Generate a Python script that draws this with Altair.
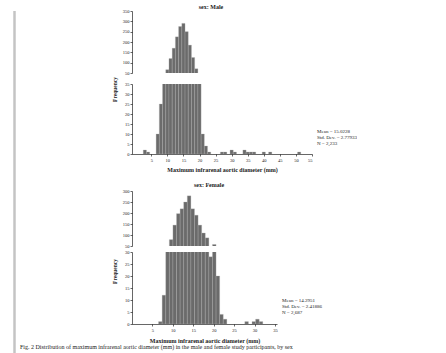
import altair as alt
import pandas as pd

FONT = "Liberation Serif"
BAR = "#6b6b6b"

# ---- data ----
male_bin_width = 1.0
male_bin_start = [2.5, 3.5, 6.5, 7.5, 8.5, 9.5, 10.5, 11.5, 12.5, 13.5, 14.5, 15.5,
                  16.5, 17.5, 18.5, 19.5, 20.5, 21.5, 22.5, 26.5, 27.5, 29.5, 30.5,
                  33.5, 34.5, 35.5, 36.5, 39.5, 41.5, 50.5]
male_count = [2, 1, 10, 25, 45, 66, 120, 170, 225, 275, 290, 250,
              185, 125, 70, 40, 10, 4, 1, 1, 1, 2, 1,
              2, 1, 1, 1, 1, 1, 1]

female_bin_width = 0.88
female_bin_start = [6.5, 7.38, 8.26, 9.14, 10.02, 10.9, 11.78, 12.66, 13.54, 14.42,
                    15.3, 16.18, 17.06, 17.94, 18.82, 19.7, 20.58, 21.46, 22.34,
                    27.62, 29.38, 30.26, 31.14]
female_count = [1, 12, 40, 79, 145, 197, 219, 250, 278, 219,
                190, 145, 109, 87, 28, 57, 20, 4, 2,
                1, 1, 2, 1]

male_x_ticks = [5, 10, 15, 20, 25, 30, 35, 40, 45, 50, 55]
female_x_ticks = [5, 10, 15, 20, 25, 30, 35]
male_low_ticks = [0, 5, 10, 15, 20, 25, 30, 35]
male_high_ticks = [50, 100, 150, 200, 250, 300, 350]
female_low_ticks = [0, 5, 10, 15, 20, 25, 30]
female_high_ticks = [50, 100, 150, 200, 250, 300]

male_title = "sex: Male"
female_title = "sex: Female"
x_title = "Maximum infrarenal aortic diameter (mm)"
y_title = "Frequency"
male_stats = ["Mean = 15.0228", "Std. Dev. = 2.77933", "N = 2,233"]
female_stats = ["Mean = 14.2951", "Std. Dev. = 2.41886", "N = 2,687"]
caption = ("Fig. 2 Distribution of maximum infrarenal aortic diameter (mm) in the male and "
           "female study participants, by sex")

male_df = pd.DataFrame({"start": male_bin_start, "count": male_count})
male_df["end"] = male_df["start"] + male_bin_width
female_df = pd.DataFrame({"start": female_bin_start, "count": female_count})
female_df["end"] = female_df["start"] + female_bin_width

one = pd.DataFrame({"a": [0]})


def y_axis(values, title=None, title_y=None):
    kw = dict(values=values, labelFontSize=4.5, labelFont=FONT, tickSize=2,
              tickWidth=0.6, domainWidth=0.6, domainColor="black", tickColor="black",
              labelPadding=1, grid=False, labelColor="#222")
    if title:
        kw.update(title=title, titleFontSize=5.5, titleFont=FONT, titleFontWeight="bold",
                  titleY=title_y, titlePadding=7, titleColor="#222")
    else:
        kw.update(title=None)
    return alt.Axis(**kw)


def x_axis(values, pad):
    return alt.Axis(values=values, labelFontSize=4.5, labelFont=FONT, tickSize=2,
                    tickWidth=0.6, domainWidth=0.6, domainColor="black", tickColor="black",
                    labelPadding=1, grid=False, title=x_title, titleFontSize=6,
                    titleFont=FONT, titleFontWeight="bold", titlePadding=pad,
                    labelColor="#222", titleColor="#222")


def segment(df, xdom, ydom, w, h, yax, xax):
    return alt.Chart(df).mark_rect(clip=True, color=BAR, stroke="#b0b0b0",
                                   strokeWidth=0.3).encode(
        x=alt.X("start:Q", scale=alt.Scale(domain=xdom, nice=False, zero=False),
                axis=xax if xax is not None else None),
        x2="end:Q",
        y=alt.Y("count:Q", scale=alt.Scale(domain=ydom, nice=False, zero=False), axis=yax),
        y2=alt.datum(0),
    ).properties(width=w, height=h)


def label(text, x, y, size=6, weight="bold", align="center"):
    return alt.Chart(one).mark_text(font=FONT, fontSize=size, fontWeight=weight,
                                    align=align, baseline="middle", color="#222",
                                    lineHeight=6, lineBreak="\n").encode(
        x=alt.value(x), y=alt.value(y), text=alt.value(text))


# male panel
m_top = alt.layer(
    segment(male_df, [-1, 55], [50, 350], 180, 62, y_axis(male_high_ticks), None),
    label(male_title, 79, -4),
)
m_bot = alt.layer(
    segment(male_df, [-1, 55], [0, 35], 180, 70,
            y_axis(male_low_ticks, y_title, 5), x_axis(male_x_ticks, 5)),
    label("\n".join(male_stats), 185, 47, size=5, weight="normal", align="left"),
)
male = alt.vconcat(m_top, m_bot, spacing=1)

f_top = alt.layer(
    segment(female_df, [0, 35.5], [50, 300], 145, 55, y_axis(female_high_ticks), None),
    label(female_title, 77, -6),
)
f_bot = alt.layer(
    segment(female_df, [0, 35.5], [0, 30], 145, 72,
            y_axis(female_low_ticks, y_title, 19), x_axis(female_x_ticks, 6)),
    label("\n".join(female_stats), 150, 48, size=5, weight="normal", align="left"),
    label(caption, -112, 95, size=6, weight="normal", align="left"),
)
female = alt.vconcat(f_top, f_bot, spacing=1)

main = alt.vconcat(male, female, spacing=9)

strip = alt.Chart(one).mark_rule(color="#c4c4c4", strokeWidth=2.5).encode(
    x=alt.value(0.5), y=alt.value(0), y2=alt.value(349)
).properties(width=1, height=349)

chart = alt.hconcat(strip, main, spacing=4).properties(
    padding={"left": 13, "top": 4, "right": 0, "bottom": 0},
    background="white",
).configure_view(stroke=None)

chart.save("out.html", embed_options={"renderer": "svg", "actions": False})
